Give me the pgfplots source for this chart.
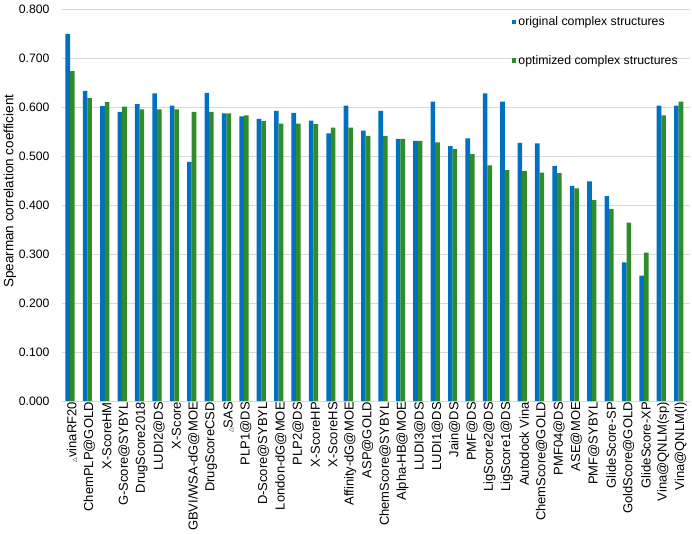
\documentclass[border=0pt]{standalone}
\usepackage{fontspec}
\setmainfont{Liberation Sans}
\newfontfamily\dejavu{DejaVu Sans}
\usepackage{pgfplots}
\pgfplotsset{compat=1.18}
\usepackage{pgfplotstable}
\definecolor{cblue}{RGB}{0,112,192}
\definecolor{cgreen}{RGB}{48,140,40}
\definecolor{cgrid}{RGB}{217,217,217}
\pgfplotstableread{
x orig opt
0 0.749 0.673
1 0.633 0.618
2 0.602 0.610
3 0.590 0.601
4 0.606 0.595
5 0.628 0.595
6 0.603 0.595
7 0.488 0.590
8 0.629 0.590
9 0.587 0.587
10 0.581 0.583
11 0.576 0.571
12 0.592 0.566
13 0.588 0.566
14 0.572 0.565
15 0.546 0.558
16 0.603 0.558
17 0.552 0.541
18 0.592 0.541
19 0.535 0.535
20 0.531 0.531
21 0.611 0.528
22 0.520 0.514
23 0.536 0.504
24 0.628 0.481
25 0.611 0.471
26 0.527 0.469
27 0.526 0.466
28 0.480 0.465
29 0.439 0.434
30 0.448 0.410
31 0.418 0.392
32 0.283 0.364
33 0.256 0.303
34 0.603 0.583
35 0.603 0.611
}\data
\newcommand{\tri}{{\dejavu\fontsize{6}{6}\selectfont △}}
\begin{document}
\begin{tikzpicture}
\useasboundingbox (0,0) rectangle (692pt,533pt);
\begin{axis}[
  at={(62pt,132pt)}, anchor=south west,
  scale only axis, width=628pt, height=392pt,
  ybar=0pt, bar width=4.6pt,
  ymin=0, ymax=0.8, ytick={0,0.1,...,0.8},
  xmin=-0.46, xmax=35.65,
  xtick=data,
  xticklabels={\tri vinaRF20,ChemPLP@GOLD,X-ScoreHM,G-Score@SYBYL,DrugScore2018,LUDI2@DS,X-Score,GBVI/WSA-dG@MOE,DrugScoreCSD,\tri SAS,PLP1@DS,D-Score@SYBYL,London-dG@MOE,PLP2@DS,X-ScoreHP,X-ScoreHS,Affinity-dG@MOE,ASP@GOLD,ChemScore@SYBYL,Alpha-HB@MOE,LUDI3@DS,LUDI1@DS,Jain@DS,PMF@DS,LigScore2@DS,LigScore1@DS,Autodock Vina,ChemScore@GOLD,PMF04@DS,ASE@MOE,PMF@SYBYL,GlideScore-SP,GoldScore@GOLD,GlideScore-XP,Vina@QNLM(sp),Vina@QNLM(l)},
  xticklabel style={rotate=90, anchor=east, font=\fontsize{13}{13}\selectfont, inner sep=1pt, yshift=-2pt},
  yticklabel style={font=\fontsize{12.2}{12.2}\selectfont, xshift=-9pt},
  /pgf/number format/assume math mode=true,
  yticklabel={\pgfmathprintnumber[fixed,fixed zerofill,precision=3]{\tick}},
  major tick length=0pt,
  axis x line*=bottom, axis y line*=left,
  x axis line style={draw=cgrid, line width=0.8pt},
  y axis line style={draw=none},
  ymajorgrids, grid style={draw=cgrid, line width=0.8pt},
  ylabel={Spearman correlation coefficient},
  ylabel style={at={(axis description cs:-0.083,0.535)}, anchor=center, font=\fontsize{13.5}{13.5}\selectfont},
  legend style={at={(axis description cs:0.716,0.985)}, anchor=north west, draw=none, fill=none, inner sep=0pt, row sep=24pt, font=\fontsize{12.3}{12.3}\selectfont, /tikz/every even column/.append style={column sep=2pt}},
  legend cell align=left,
  legend image code/.code={\fill[#1] (0pt,-2.2pt) rectangle (4.6pt,2.4pt);},
]
\addplot[fill=cblue, draw=none] table[x=x, y=orig] {\data};
\addplot[fill=cgreen, draw=none] table[x=x, y=opt] {\data};
\legend{original complex structures, optimized complex structures}
\end{axis}
\end{tikzpicture}
\end{document}
